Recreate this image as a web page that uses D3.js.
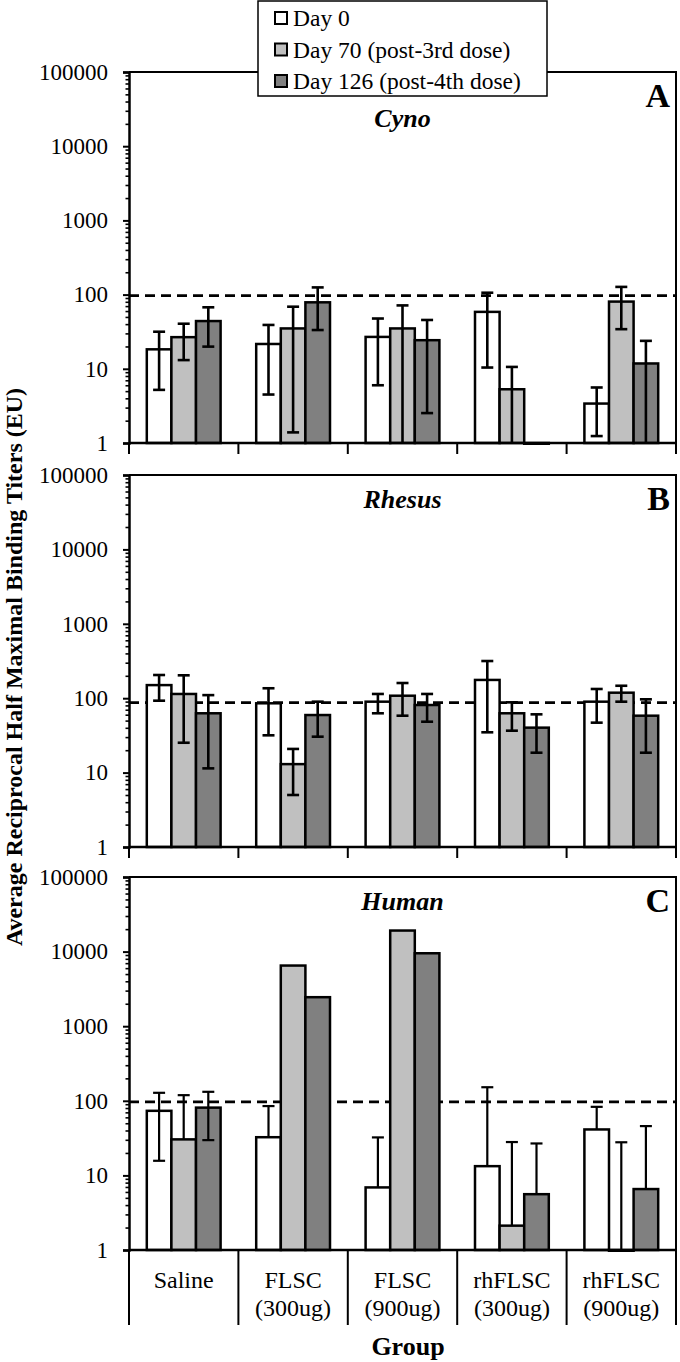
<!DOCTYPE html>
<html><head><meta charset="utf-8">
<script src="https://cdn.jsdelivr.net/npm/d3@7/dist/d3.min.js"></script>
<style>body{margin:0;background:#fff}svg{display:block}text{font-family:"Liberation Serif","Times New Roman",serif;fill:#000}</style>
</head><body><svg id="c" width="680" height="1362"></svg>
<script>
// ---- data ----
const groups = ["Saline", "FLSC (300ug)", "FLSC (900ug)", "rhFLSC (300ug)", "rhFLSC (900ug)"];
const groupLine1 = ["Saline", "FLSC", "FLSC", "rhFLSC", "rhFLSC"];
const groupLine2 = ["", "(300ug)", "(900ug)", "(300ug)", "(900ug)"];
const series = ["Day 0", "Day 70 (post-3rd dose)", "Day 126 (post-4th dose)"];
const seriesColors = ["#ffffff", "#c0c0c0", "#808080"];
const yTicks = [1, 10, 100, 1000, 10000, 100000];
const panelNames = ["Cyno", "Rhesus", "Human"];
const panelLetters = ["A", "B", "C"];
const refLevels = [97, 87, 97];

// Cyno (panel A)
const cynoDay0   = [18.3, 21.6, 26.9, 58.5, 3.4];
const cynoDay70  = [26.7, 35.0, 35.0, 5.3, 80.5];
const cynoDay126 = [44.0, 78.7, 24.3, 0.97, 11.8];
const cynoHi0    = [31.6, 39.0, 47.6, 106, 5.6];
const cynoHi70   = [40.5, 68.7, 71.5, 10.6, 127];
const cynoHi126  = [67.4, 125, 45.5, null, 23.8];
const cynoLo0    = [5.2, 4.5, 6.0, 10.4, 1.24];
const cynoLo70   = [13.1, 1.39, 0.5, 0.5, 34.2];
const cynoLo126  = [19.9, 33.3, 2.53, null, 0.5];

// Rhesus (panel B)
const rhDay0   = [150, 85.4, 89.8, 176, 89.8];
const rhDay70  = [114, 13.0, 108, 62.7, 118.6];
const rhDay126 = [62.7, 59.4, 81, 40.2, 58.2];
const rhHi0    = [205, 136, 114, 316, 133];
const rhHi70   = [203, 20.8, 160, 88, 147];
const rhHi126  = [110, 89.8, 114, 60.7, 96.6];
const rhLo0    = [92.6, 31.7, 62.7, 34.8, 46.9];
const rhLo70   = [25.2, 5.0, 58.2, 36.6, 89.8];
const rhLo126  = [11.4, 30.4, 48.3, 18.5, 18.5];

// Human (panel C)
const huDay0   = [73.4, 32.5, 6.9, 13.3, 41.3];
const huDay70  = [30.4, 6500, 19150, 2.12, 0.97];
const huDay126 = [81, 2448, 9500, 5.6, 6.56];
const huHi0    = [128, 85, 32.3, 152, 83];
const huHi70   = [119, null, null, 28, 27.8];
const huHi126  = [132, null, null, 26.8, 45.8];
const huLo0    = [15.7, null, null, null, null];
const huLo70   = [null, null, null, null, null];
const huLo126  = [29.7, null, null, null, null];

const panelData = [
  {vals:[cynoDay0,cynoDay70,cynoDay126], hi:[cynoHi0,cynoHi70,cynoHi126], lo:[cynoLo0,cynoLo70,cynoLo126]},
  {vals:[rhDay0,rhDay70,rhDay126], hi:[rhHi0,rhHi70,rhHi126], lo:[rhLo0,rhLo70,rhLo126]},
  {vals:[huDay0,huDay70,huDay126], hi:[huHi0,huHi70,huHi126], lo:[huLo0,huLo70,huLo126]}
];

// ---- layout ----
const svg = d3.select("#c");
const xL = 129, xR = 676;
const tops = [72, 475, 877], bottoms = [443, 847, 1250];
const x0 = d3.scaleBand().domain(groups).range([xL, xR]);
const barW = 24.6;
const pad = (x0.step() - 3 * barW) / 2;
const x1 = d3.scaleBand().domain(series).range([pad, x0.step() - pad]);

const defs = svg.append("defs");

panelNames.forEach((name, p) => {
  const top = tops[p], bottom = bottoms[p];
  const y = d3.scaleLog().domain([1, 100000]).range([bottom, top]);
  const g = svg.append("g");
  defs.append("clipPath").attr("id", "bc" + p).append("rect")
    .attr("x", xL).attr("y", top - 5).attr("width", xR - xL).attr("height", bottom - top + 7);
  defs.append("clipPath").attr("id", "ec" + p).append("rect")
    .attr("x", xL).attr("y", top - 5).attr("width", xR - xL).attr("height", bottom - top + 5);

  // frame top & right
  g.append("path").attr("d", `M${xL},${top}H${xR}V${bottom}`).attr("fill", "none")
    .attr("stroke", "#000").attr("stroke-width", 2);

  // dashed reference
  g.append("line").attr("x1", xL).attr("x2", xR).attr("y1", y(refLevels[p])).attr("y2", y(refLevels[p]))
    .attr("stroke", "#000").attr("stroke-width", 2.8).attr("stroke-dasharray", "10,6");

  const d = panelData[p];
  const ew = p === 2 ? 2.2 : 2.6;
  series.forEach((s, si) => {
    const bars = g.append("g").attr("clip-path", `url(#bc${p})`);
    const errs = g.append("g").attr("clip-path", `url(#ec${p})`);
    groups.forEach((gr, gi) => {
      const v = d.vals[si][gi];
      if (v == null) return;
      const bx = x0(gr) + x1(s);
      const yt = y(v), yb = y(1);
      bars.append("rect").attr("x", bx).attr("y", Math.min(yt, yb)).attr("width", x1.bandwidth())
        .attr("height", Math.abs(yb - yt)).attr("fill", seriesColors[si])
        .attr("stroke", "#000").attr("stroke-width", 2.5);
    });
    groups.forEach((gr, gi) => {
      const v = d.vals[si][gi];
      const hi = d.hi[si][gi], lo = d.lo[si][gi];
      const cx = x0(gr) + x1(s) + x1.bandwidth() / 2;
      const cw = 6;
      if (hi != null) {
        errs.append("line").attr("x1", cx).attr("x2", cx).attr("y1", y(v)).attr("y2", y(hi))
          .attr("stroke", "#000").attr("stroke-width", ew);
        errs.append("line").attr("x1", cx - cw).attr("x2", cx + cw).attr("y1", y(hi)).attr("y2", y(hi))
          .attr("stroke", "#000").attr("stroke-width", ew);
      }
      if (lo != null) {
        const ly = lo < 1 ? y(1) + 4 : y(lo);
        errs.append("line").attr("x1", cx).attr("x2", cx).attr("y1", y(v)).attr("y2", ly)
          .attr("stroke", "#000").attr("stroke-width", ew);
        if (lo >= 1) errs.append("line").attr("x1", cx - cw).attr("x2", cx + cw).attr("y1", ly).attr("y2", ly)
          .attr("stroke", "#000").attr("stroke-width", ew);
      }
    });
  });

  // y axis
  const minor = [];
  for (let e = 0; e < 5; e++) for (let k = 2; k <= 9; k++) minor.push(k * Math.pow(10, e));
  const ga = g.append("g").attr("transform", `translate(${xL},0)`)
    .call(d3.axisLeft(y).tickValues(yTicks).tickFormat(d3.format("d")).tickSize(6).tickPadding(15));
  ga.select(".domain").attr("stroke-width", 2.5);
  ga.selectAll(".tick line").attr("stroke-width", 2);
  ga.selectAll(".tick text").attr("font-size", 23).attr("font-family", "Liberation Serif");
  const gm = g.append("g").attr("transform", `translate(${xL},0)`)
    .call(d3.axisLeft(y).tickValues(minor).tickFormat("").tickSize(3.5));
  gm.select(".domain").remove();
  gm.selectAll(".tick line").attr("stroke-width", 1.6);

  // x axis line
  g.append("line").attr("x1", xL).attr("x2", xR).attr("y1", bottom).attr("y2", bottom)
    .attr("stroke", "#000").attr("stroke-width", 2.5);
  // category boundary ticks
  const bounds = groups.map(gr => x0(gr)).concat([xR]);
  const tickLen = p === 2 ? 75 : 11;
  g.selectAll(".bd").data(bounds).enter().append("line")
    .attr("x1", d => d).attr("x2", d => d).attr("y1", bottom).attr("y2", bottom + tickLen)
    .attr("stroke", "#000").attr("stroke-width", 2);

  // panel title & letter
  const cxp = (xL + xR) / 2;
  g.append("text").attr("x", cxp).attr("y", p === 0 ? 127 : top + 33).attr("text-anchor", "middle")
    .attr("font-size", 26).attr("font-weight", "bold").attr("font-style", "italic").text(name);
  g.append("text").attr("x", 670).attr("y", top + 35).attr("text-anchor", "end")
    .attr("font-size", 34).attr("font-weight", "bold").text(panelLetters[p]);

  if (p === 2) {
    groups.forEach((gr, gi) => {
      const cx = x0(gr) + x0.bandwidth() / 2;
      g.append("text").attr("x", cx).attr("y", bottom + 38).attr("text-anchor", "middle")
        .attr("font-size", 24).text(groupLine1[gi]);
      if (groupLine2[gi]) g.append("text").attr("x", cx).attr("y", bottom + 66).attr("text-anchor", "middle")
        .attr("font-size", 24).text(groupLine2[gi]);
    });
  }
});

// x title
svg.append("text").attr("x", 408).attr("y", 1355).attr("text-anchor", "middle")
  .attr("font-size", 26).attr("font-weight", "bold").text("Group");

// y title
const yt = svg.append("text").attr("transform", "translate(22,667) rotate(-90)").attr("text-anchor", "middle")
  .attr("font-size", 24).attr("font-weight", "bold").text("Average Reciprocal Half Maximal Binding Titers (EU)");
const len = yt.node().getComputedTextLength();
const fs = Math.min(24, 24 * 636 / len);
yt.attr("font-size", fs);

// legend
const lg = svg.append("g");
lg.append("rect").attr("x", 258).attr("y", 1).attr("width", 289).attr("height", 95)
  .attr("fill", "#fff").attr("stroke", "#000").attr("stroke-width", 1.5);
series.forEach((s, i) => {
  const cy = 18 + i * 31.5;
  lg.append("rect").attr("x", 275).attr("y", cy - 6).attr("width", 12).attr("height", 12)
    .attr("fill", seriesColors[i]).attr("stroke", "#000").attr("stroke-width", 2);
  lg.append("text").attr("x", 293).attr("y", cy + 8).attr("font-size", 23.5).text(s);
});
</script></body></html>
